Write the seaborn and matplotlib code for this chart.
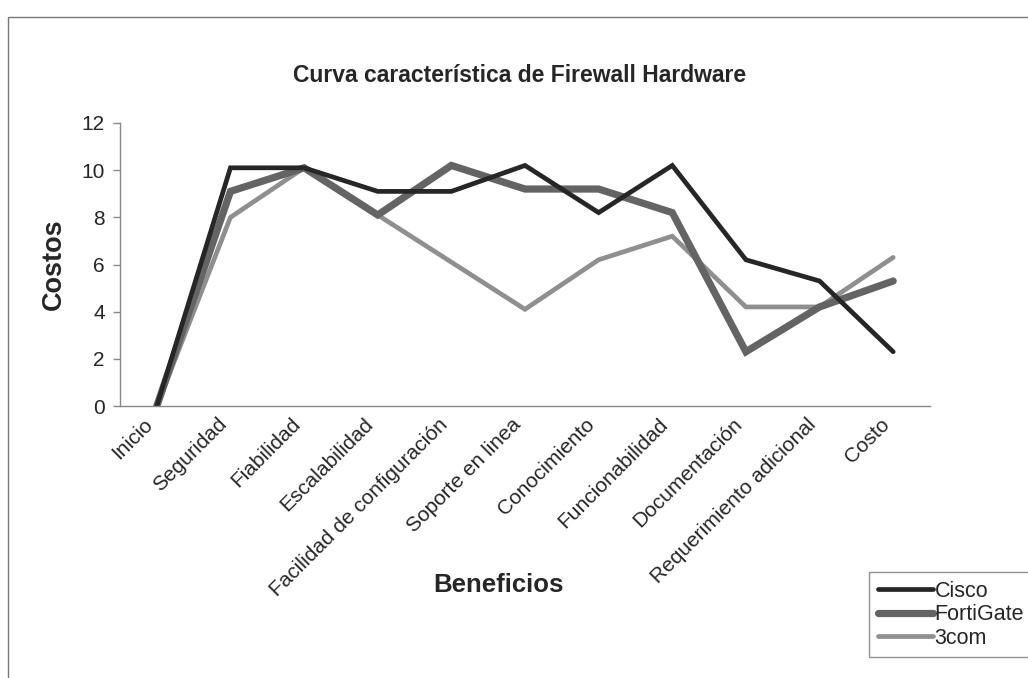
import matplotlib
matplotlib.use("Agg")
import matplotlib.pyplot as plt
import matplotlib.transforms as mtransforms
from matplotlib.patches import Rectangle
import seaborn as sns
import pandas as pd

categories = ["Inicio", "Seguridad", "Fiabilidad", "Escalabilidad",
              "Facilidad de configuración", "Soporte en linea", "Conocimiento",
              "Funcionabilidad", "Documentación", "Requerimiento adicional", "Costo"]
cisco = [0, 10.1, 10.1, 9.1, 9.1, 10.2, 8.2, 10.2, 6.2, 5.3, 2.3]
fortigate = [0, 9.1, 10.1, 8.1, 10.2, 9.2, 9.2, 8.2, 2.3, 4.2, 5.3]
com3 = [0, 8.0, 10.1, 8.1, 6.1, 4.1, 6.2, 7.2, 4.2, 4.2, 6.3]
series_names = ["Cisco", "FortiGate", "3com"]
y_ticks = [0, 2, 4, 6, 8, 10, 12]

sns.set_theme(style="white")
plt.rcParams['font.family'] = ['Liberation Sans', 'DejaVu Sans']

fig = plt.figure(figsize=(10.28, 6.78), dpi=100)
ax = fig.add_axes([120/1028, 1 - 406/678, 810/1028, (406-123)/678])

df = pd.DataFrame({"x": list(range(len(categories))) * 3,
                   "y": cisco + fortigate + com3,
                   "serie": sum([[n] * len(categories) for n in series_names], [])})

styles = {"Cisco": ("#262626", 3.4), "FortiGate": ("#646464", 5.2), "3com": ("#8f8f8f", 3.4)}
for name in ["3com", "FortiGate", "Cisco"]:
    sub = df[df["serie"] == name]
    col, lw = styles[name]
    sns.lineplot(data=sub, x="x", y="y", ax=ax, color=col, linewidth=lw,
                 label=name, legend=False, solid_joinstyle="miter")

ax.set_xlim(-0.5, len(categories) - 0.5)
ax.set_ylim(0, 12)
ax.set_yticks(y_ticks)
ax.set_yticklabels([str(t) for t in y_ticks], fontsize=15)
ax.set_xticks(range(len(categories)))
ax.set_xticklabels(categories, rotation=45, ha="right", va="center",
                   rotation_mode="anchor", fontsize=15)
ax.tick_params(axis="x", length=0, pad=11)
shift = mtransforms.ScaledTranslation(-7/100, 0, fig.dpi_scale_trans)
for lbl in ax.get_xticklabels():
    lbl.set_transform(lbl.get_transform() + shift)
# tick marks between categories (Excel-style)
ax.set_xticks([i - 0.5 for i in range(len(categories) + 1)], minor=True)
ax.tick_params(axis="x", which="minor", length=5, color="#888888", width=1)
ax.tick_params(axis="y", length=5, color="#888888", width=1, left=True, pad=6)
for s in ["top", "right"]:
    ax.spines[s].set_visible(False)
for s in ["left", "bottom"]:
    ax.spines[s].set_color("#888888")
    ax.spines[s].set_linewidth(1)

ax.set_xlabel("")
ax.set_ylabel("")
fig.text(54/1028, 1 - 264/678, "Costos", fontsize=19.5, fontweight="bold",
         rotation=90, ha="center", va="center")
fig.text(498/1028, 1 - 585/678, "Beneficios", fontsize=18.5, fontweight="bold",
         ha="center", va="center")
fig.text(520/1028, 1 - 75/678, "Curva característica de Firewall Hardware",
         fontsize=16.5, fontweight="bold", ha="center", va="center")

# outer chart border
fig.patches.append(Rectangle((8/1028, -0.05), 1.2, 1 - 17/678 + 0.05,
                             transform=fig.transFigure, fill=False,
                             edgecolor="#777777", linewidth=1))

handles = [plt.Line2D([], [], color=styles[n][0], linewidth=styles[n][1]) for n in series_names]
leg = fig.legend(handles, series_names, loc="upper left",
                 bbox_to_anchor=(869/1028, 1 - 572/678), fontsize=15.5,
                 frameon=True, fancybox=False, handlelength=2.55, handletextpad=0.1,
                 labelspacing=0.12, borderpad=0.4, borderaxespad=0)
leg.get_frame().set_edgecolor("#777777")
leg.get_frame().set_linewidth(1)

fig.savefig("out.png", dpi=100)
